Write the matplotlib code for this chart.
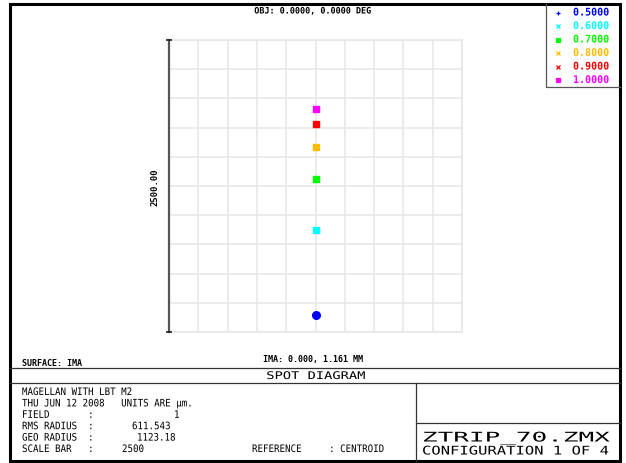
import matplotlib
matplotlib.use('Agg')
import matplotlib.pyplot as plt
import numpy as np
from matplotlib.patches import Rectangle
from matplotlib.patheffects import AbstractPathEffect
from matplotlib.transforms import Affine2D

# wavelengths (um) and where each one lands on the image plane (um, centroid ref)
wavelengths = [0.5, 0.6, 0.7, 0.8, 0.9, 1.0]
colors = ['#0000ff', '#00ffff', '#00ff00', '#ffbb00', '#ff0000', '#ff00ff']
spot_x = [0, 0, 0, 0, 0, 0]
spot_y = [-1104, -377, 60, 336, 528, 659]
spot_markers = ['o', 's', 's', 's', 's', 's']
legend_markers = ['+', 'x', 's', 'x', 'x', 's']

scale_bar = 2500
field = 1
rms_radius = 611.543
geo_radius = 1123.18
obj_field = (0.0, 0.0)
ima_coord = (0.0, 1.161)

W, H = 626, 464
MONO = 'DejaVu Sans Mono'
LINE = '#333333'


class Stretch(AbstractPathEffect):
    """Stretch glyphs horizontally (text stays a Text artist)."""

    def __init__(self, sx, anchor='left'):
        super().__init__()
        self.sx = sx
        self.anchor = anchor

    def draw_path(self, renderer, gc, tpath, affine, rgbFace=None):
        ext = tpath.get_extents()
        x0 = {'left': 0, 'center': (ext.x0 + ext.x1) / 2, 'right': ext.x1}[self.anchor]
        t = Affine2D().translate(-x0, 0).scale(self.sx, 1).translate(x0, 0) + affine
        renderer.draw_path(gc, tpath, t, rgbFace)


fig = plt.figure(figsize=(W / 100, H / 100), dpi=100)

# spot diagram box (pixel box 169..462 x 41..333)
half = scale_bar / 2
ax = fig.add_axes([169 / W, 1 - 333 / H, (462 - 169) / W, (333 - 41) / H])
ax.set_xlim(-half, half)
ax.set_ylim(-half, half)
ticks = np.linspace(-half, half, 11)
ax.set_xticks(ticks)
ax.set_yticks(ticks)
ax.tick_params(length=0, labelbottom=False, labelleft=False)
ax.grid(True, color='#e8e8e8', lw=1.2)
for s in ax.spines.values():
    s.set_color('#e8e8e8')
    s.set_linewidth(1.2)
ax.spines['left'].set_visible(False)
ax.set_axisbelow(True)

for x, y, c, m in zip(spot_x, spot_y, colors, spot_markers):
    ms = 5.5 if m == 'o' else 4.8
    ax.plot(x, y, marker=m, ms=ms, color=c, mec=c, ls='none', zorder=3)

# scale bar on the left edge
ax.plot([-half, -half], [-half, half], color='#555555', lw=1.6, clip_on=False, zorder=4)
ax.plot([-half, -half], [-half, half], marker='_', ms=5, mew=1.2, color='#222222',
        ls='none', clip_on=False, zorder=4)

# overlay in pixel coordinates for frame and annotations
ov = fig.add_axes([0, 0, 1, 1])
ov.set_xlim(0, W)
ov.set_ylim(H, 0)
ov.axis('off')


def txt(x, y, s, size=7.4, ha='left', weight='normal', sx=0.89, color='black', **kw):
    t = ov.text(x, y, s, fontsize=size, ha=ha, va='center', family=MONO,
                weight=weight, color=color, **kw)
    if sx and sx != 1:
        t.set_path_effects([Stretch(sx, ha)])
    return t


ov.add_patch(Rectangle((10, 5), 610, 457, fill=False, lw=2.2, ec='black'))
ov.plot([10, 620], [369, 369], color=LINE, lw=0.9)
ov.plot([10, 620], [384, 384], color=LINE, lw=0.9)
ov.plot([416, 416], [384, 462], color=LINE, lw=0.9)
ov.plot([416, 620], [424, 424], color=LINE, lw=0.9)

# legend box
ov.plot([546, 546, 620], [5, 88, 88], color='#555555', lw=0.9)
for i, (wl, c, m) in enumerate(zip(wavelengths, colors, legend_markers)):
    y = 13.5 + i * 13.5
    ov.plot(558, y, marker=m, ms=2.6, mew=0.9, color=c, ls='none')
    txt(573, y, f'{wl:.4f}', size=7.6, weight='bold', color=c, sx=0.95)

txt(313, 12, f'OBJ: {obj_field[0]:.4f}, {obj_field[1]:.4f} DEG', size=6.4, ha='center',
    weight='bold', sx=0.95)
txt(155, 187, f'{scale_bar:.2f}', size=6.4, ha='center', weight='bold', rotation=90, sx=1)
txt(22, 364, 'SURFACE: IMA', size=6.0, weight='bold', sx=1)
txt(313, 360, f'IMA: {ima_coord[0]:.3f}, {ima_coord[1]:.3f} MM', size=6.0, ha='center',
    weight='bold', sx=1)
txt(316, 377, 'SPOT DIAGRAM', size=7.6, ha='center', sx=1.3)

rows = [393, 404.4, 415.8, 427.2, 438.6, 450]
txt(22, rows[0], 'MAGELLAN WITH LBT M2')
txt(22, rows[1], 'THU JUN 12 2008   UNITS ARE \u00b5m.')
txt(22, rows[2], 'FIELD       :')
txt(174, rows[2], f'{field}')
txt(22, rows[3], 'RMS RADIUS  :')
txt(132, rows[3], f'{rms_radius:.3f}')
txt(22, rows[4], 'GEO RADIUS  :')
txt(137, rows[4], f'{geo_radius:.2f}')
txt(22, rows[5], 'SCALE BAR   :')
txt(122, rows[5], f'{scale_bar}')
txt(252, rows[5], 'REFERENCE     : CENTROID')

txt(422, 439, 'ZTRIP_70.ZMX', size=9.6, sx=1.95)
txt(422, 452, 'CONFIGURATION 1 OF 4', size=8.6, sx=1.3)

fig.savefig('out.png', dpi=100)
